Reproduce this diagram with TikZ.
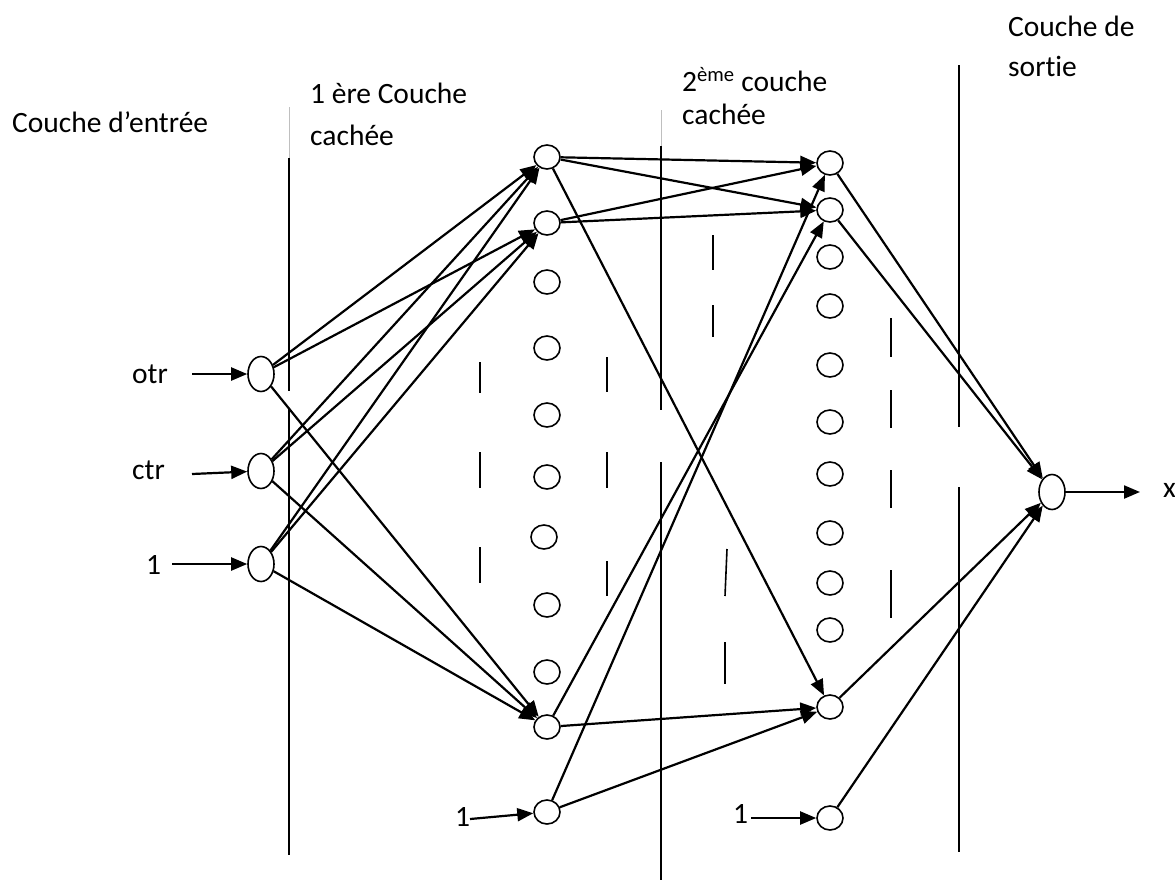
\documentclass[tikz,border=0pt]{standalone}
\usepackage{fontspec}
\setmainfont{Carlito}[Ligatures=NoCommon]
\usetikzlibrary{arrows.meta,shapes.geometric}
\tikzset{
  unit/.style={ellipse,draw,line width=1.6pt,minimum width=26pt,minimum height=24pt,inner sep=0pt,fill=white},
  bigunit/.style={ellipse,draw,line width=1.6pt,minimum width=26pt,minimum height=35pt,inner sep=0pt,fill=white},
  link/.style={line width=2.2pt,-{Triangle[length=16pt,width=13pt]}},
  sep/.style={line width=1.8pt},
  faint/.style={line width=1pt,black!25},
  tick/.style={line width=1.6pt},
  lbl/.style={anchor=base west,inner sep=0pt,font=\fontsize{29.5}{34}\selectfont}
}
\begin{document}
\begin{tikzpicture}[x=1pt,y=-1pt]
\useasboundingbox (0,0) rectangle (1175,884);

% layer separators
\draw[faint] (289,107) -- (289,158);
\draw[sep] (289,158) -- (289,391);
\draw[sep] (289,408) -- (289,855);
\draw[faint] (661,110) -- (661,146);
\draw[sep] (661,146) -- (661,410);
\draw[sep] (661,462) -- (661,880);
\draw[sep] (959,65) -- (959,427);
\draw[sep] (959,487) -- (959,852);

% dashes marking omitted units
\foreach \y/\z in {362/393,452/488,547/583} \draw[tick] (480,\y) -- (480,\z);
\foreach \y/\z in {357/392,452/488,561/596} \draw[tick] (607,\y) -- (607,\z);
\foreach \y/\z in {235/270,305/337} \draw[tick] (713,\y) -- (713,\z);
\draw[tick] (727,549) -- (725,596);
\draw[tick] (725,642) -- (725,684);
\foreach \y/\z in {318/357,390/428,470/508,570/618} \draw[tick] (891,\y) -- (891,\z);

% headings
\node[lbl] (h0) at (12,132) {Couche d’entrée};
\node[lbl] (h1a) at (310,103) {1 ère Couche};
\node[lbl] (h1b) at (310,145) {cachée};
\node[lbl] (h2a) at (682,91) {2\textsuperscript{ème} couche};
\node[lbl] (h2b) at (682,124) {cachée};
\node[lbl] (h3a) at (1008,36) {Couche de};
\node[lbl] (h3b) at (1008,76) {sortie};

% input layer
\node[bigunit] (i1) at (261,374) {};
\node[bigunit] (i2) at (261,471) {};
\node[bigunit] (i3) at (261,564) {};
\node[lbl] (l1) at (132,383) {otr};
\node[lbl] (l2) at (132,479) {ctr};
\node[lbl] (l3) at (146,574) {1};
\coordinate (s1) at (192,374);
\coordinate (s2) at (192,474);
\coordinate (s3) at (172,564);
\draw[link] (s1) -- (i1);
\draw[link] (s2) -- (i2);
\draw[link] (s3) -- (i3);

% first hidden layer
\node[unit] (a1) at (547,157) {};
\node[unit] (a2) at (547,223) {};
\node[unit] (a3) at (547,282) {};
\node[unit] (a4) at (547,348) {};
\node[unit] (a5) at (547,415) {};
\node[unit] (a6) at (547,477) {};
\node[unit] (a7) at (544,537) {};
\node[unit] (a8) at (547,605) {};
\node[unit] (a9) at (547,672) {};
\node[unit] (ah) at (547,727) {};
\node[unit] (ab) at (547,812) {};
\node[lbl] (lb1) at (455,826) {1};
\coordinate (sb1) at (470,819);
\draw[link] (sb1) -- (ab);

% second hidden layer
\node[unit] (b1) at (830,163) {};
\node[unit] (b2) at (830,210) {};
\node[unit] (b3) at (830,257) {};
\node[unit] (b4) at (830,306) {};
\node[unit] (b5) at (830,365) {};
\node[unit] (b6) at (830,422) {};
\node[unit] (b7) at (830,474) {};
\node[unit] (b8) at (830,533) {};
\node[unit] (b9) at (830,583) {};
\node[unit] (b10) at (830,630) {};
\node[unit] (bh) at (830,707) {};
\node[unit] (bb) at (830,818) {};
\node[lbl] (lb2) at (733,823) {1};
\coordinate (sb2) at (751,818);
\draw[link] (sb2) -- (bb);

% output layer
\node[bigunit] (o) at (1052,492) {};
\coordinate (ox) at (1140,492);
\node[lbl] (lx) at (1163,497) {x};
\draw[link] (o) -- (ox);

% input -> first hidden
\foreach \s in {i1,i2,i3} {
  \draw[link] (\s) -- (a1);
  \draw[link] (\s) -- (a2);
  \draw[link] (\s) -- (ah);
}

% first hidden -> second hidden
\draw[link] (a1) -- (b1);
\draw[link] (a1) -- (b2);
\draw[link] (a2) -- (b1);
\draw[link] (a2) -- (b2);
\draw[link] (a1) -- (bh);
\draw[link] (ah) -- (b2);
\draw[link] (ah) -- (bh);
\draw[link] (ab) -- (b1);
\draw[link] (ab) -- (bh);

% second hidden -> output
\draw[link] (b1) -- (o);
\draw[link] (b2) -- (o);
\draw[link] (bh) -- (o);
\draw[link] (bb) -- (o);
\end{tikzpicture}
\end{document}
